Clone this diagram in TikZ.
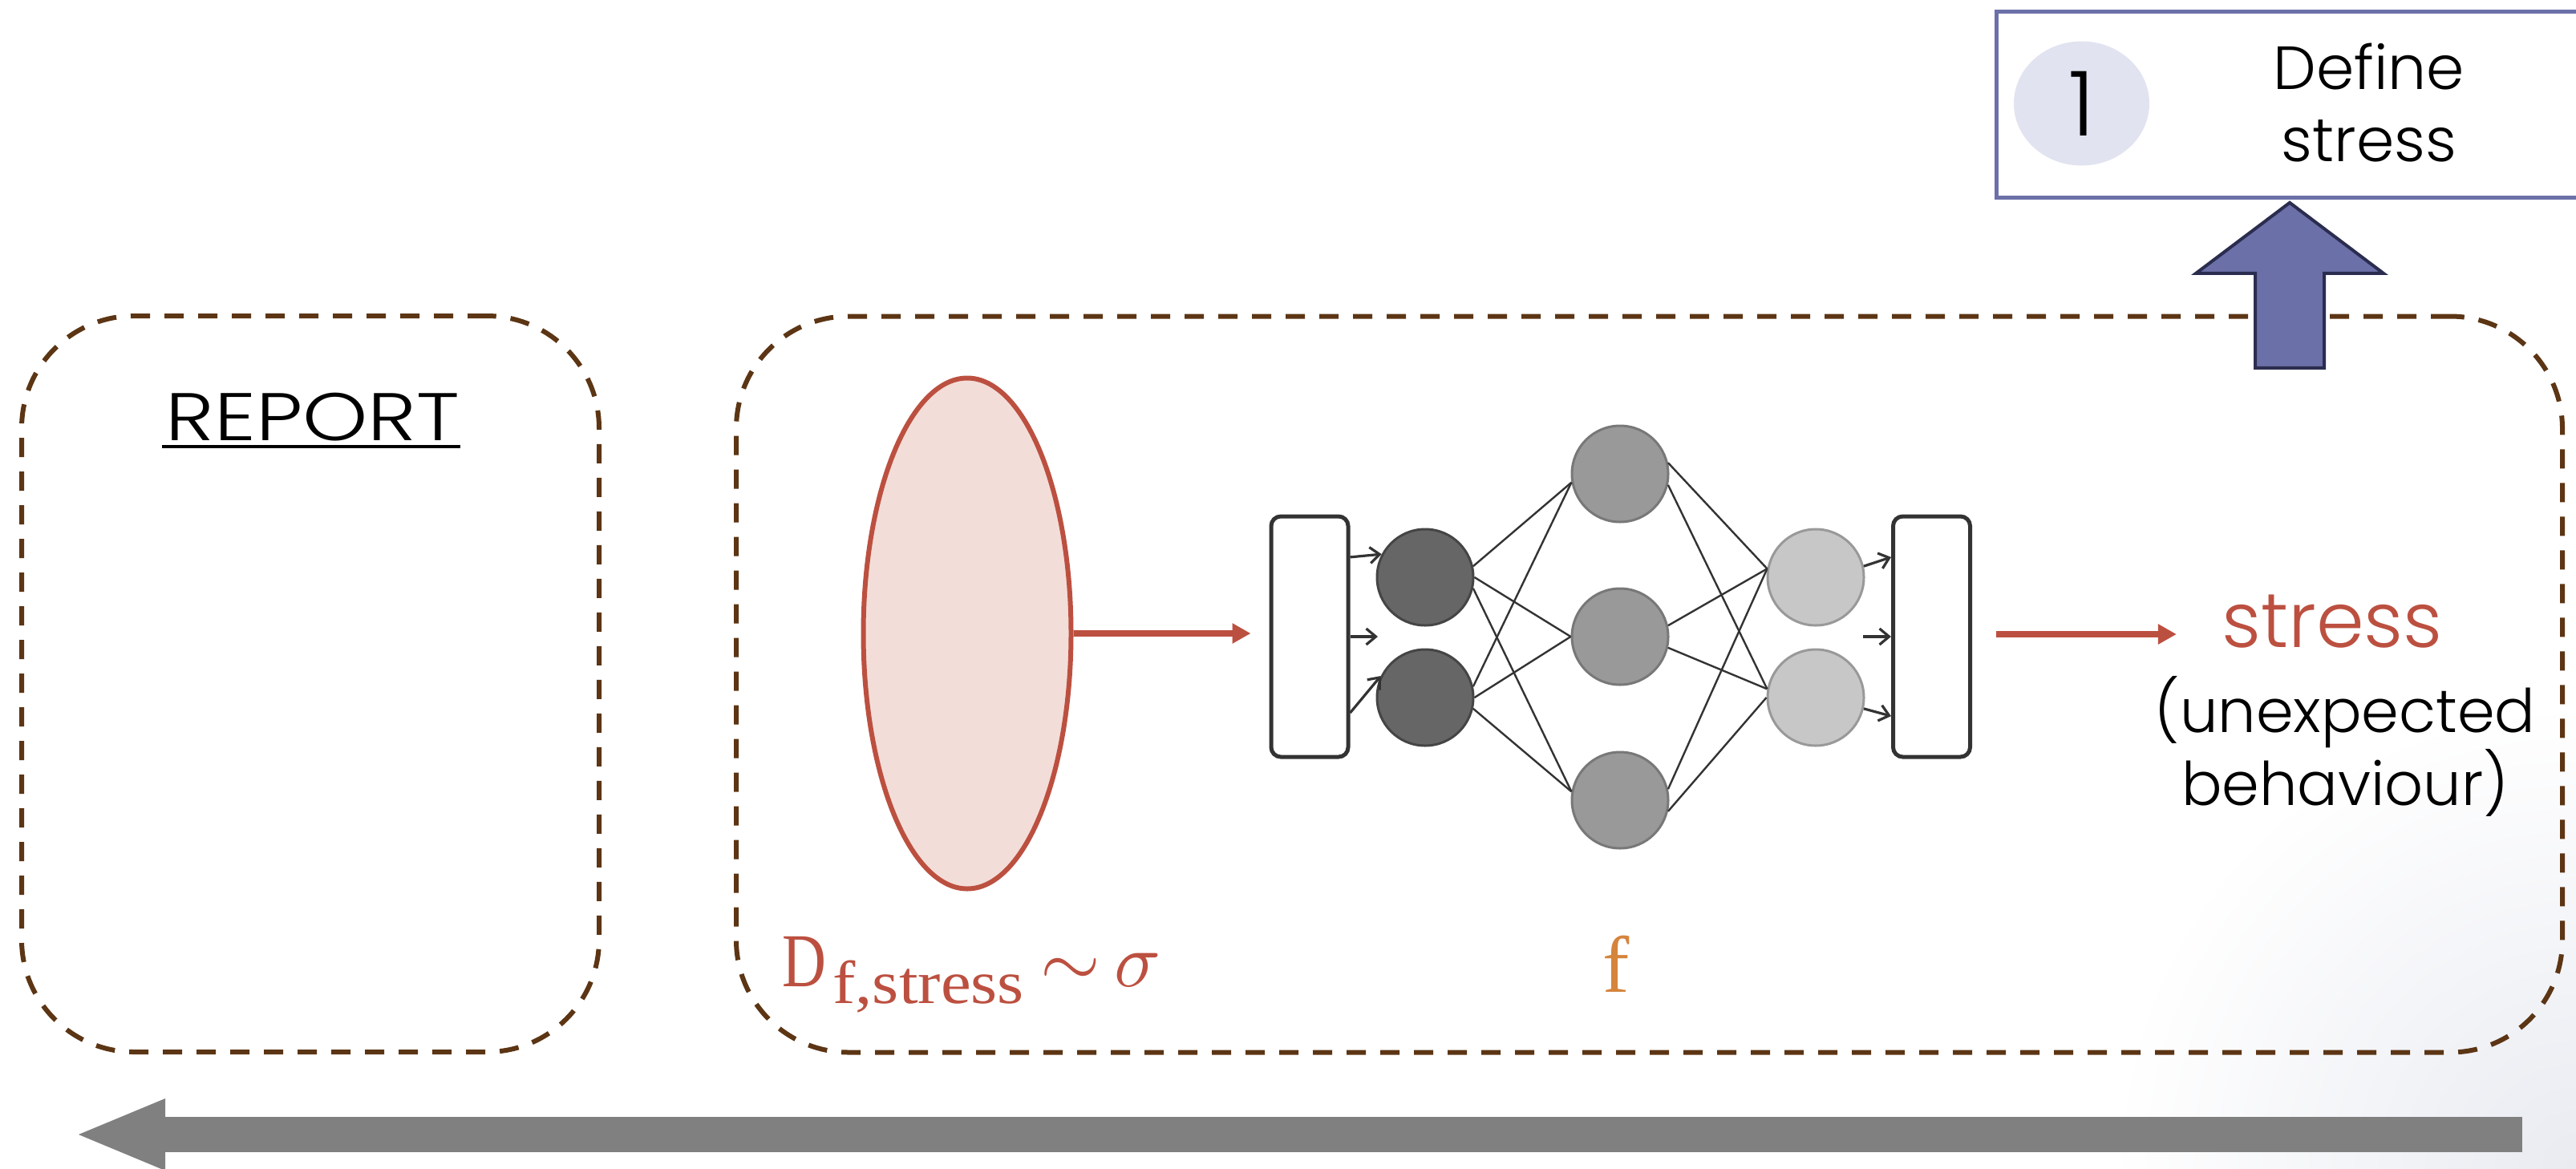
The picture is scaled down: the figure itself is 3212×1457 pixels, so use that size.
\documentclass[tikz,border=0pt]{standalone}
\usepackage[no-math]{fontspec}
\setmainfont{Poppins Light}
\newfontfamily\wideface{Poppins Light}[FakeStretch=1.23]
\newfontfamily\serifface{Liberation Serif}
\newfontfamily\narrowface{Liberation Serif}[FakeStretch=0.8]
\newfontfamily\subface{Liberation Serif}[FakeStretch=1.12]
\usetikzlibrary{positioning,arrows.meta,shapes.geometric,shapes.arrows}
\definecolor{planblue}{HTML}{6C70A8}
\definecolor{planbluesoft}{HTML}{E2E3F0}
\definecolor{navy}{HTML}{2B2D4F}
\definecolor{umber}{HTML}{5C3514}
\definecolor{brick}{HTML}{BC5040}
\definecolor{bricksoft}{HTML}{F3DDD8}
\definecolor{amber}{HTML}{D5843C}
\definecolor{wire}{HTML}{333333}
\definecolor{railgrey}{HTML}{808080}
\definecolor{cornergrey}{HTML}{E9EBF1}
\newcommand{\bigsym}[1]{\scalebox{4.8}{\fontsize{10}{12}\selectfont$#1$}}
\tikzset{
  zone/.style    = {draw=umber, line width=3pt, dash pattern=on 12pt off 9pt, rounded corners=70pt,
                    minimum height=459pt},
  layerbox/.style= {draw=wire, line width=2.5pt, fill=white, rounded corners=6pt,
                    minimum width=48pt, minimum height=150pt},
  unit/.style    = {circle, line width=1.5pt, minimum size=60pt, inner sep=0pt},
  unitdark/.style= {unit, draw=black!73, fill=black!60},
  unitmid/.style = {unit, draw=black!53, fill=black!40},
  unitpale/.style= {unit, draw=black!40, fill=black!22},
  link/.style    = {draw=wire, line width=1.2pt},
  feed/.style    = {draw=wire, line width=1.6pt, -{Straight Barb[length=6pt,width=10pt]}},
  flow/.style    = {draw=brick, line width=4pt, -{Triangle[length=11.5pt,width=12pt]}},
  label/.style   = {align=center, inner sep=0pt, font=\fontsize{38}{45}\selectfont},
  formula/.style = {inner sep=0pt, font=\fontsize{47.5}{50}\selectfont},
}
\begin{document}
\begin{tikzpicture}[x=0.5pt, y=-0.5pt]
  \useasboundingbox (0,0) rectangle (3212,1457);
  \clip (0,0) rectangle (3212,1457);
  \shade[inner color=cornergrey, outer color=white] (3212,1457) circle (580);

  \node[zone, minimum width=360pt] (report) at (387,853) {};
  \node[zone, minimum width=1138.5pt] (model) at (2056.5,853.5) {};

  \node[draw=planblue, line width=2.5pt, fill=white, minimum width=380pt, minimum height=116pt] (task) at (2869,130) {};
  \node[ellipse, fill=planbluesoft, minimum width=84.5pt, minimum height=77.5pt, inner sep=0pt] (num) at (2595.5,129) {};
  \node[inner sep=0pt, font=\fontsize{56}{60}\selectfont] (one) at (num.center) {1};
  \node[label] (define) at (2954,128) {Define\\stress};
  \node[single arrow, draw=navy, line width=2pt, fill=planblue, rotate=90, inner sep=0pt, inner ysep=20.5pt,
        minimum width=115.5pt, minimum height=103pt, single arrow head extend=37pt,
        single arrow tip angle=106] (up) at (2855,372) {};

  \node[inner sep=0pt, font=\wideface\fontsize{42}{45}\selectfont, anchor=base] (repname) at (390,549) {REPORT};
  \draw[line width=2pt] ([yshift=-3.5pt,xshift=-2pt]repname.south west) -- ([yshift=-3.5pt]repname.south east);

  \node[ellipse, draw=brick, line width=3pt, fill=bricksoft, minimum width=129.5pt, minimum height=318.5pt, inner sep=0pt] (data) at (1206,790) {};

  \node[layerbox] (inbox) at (1633,794) {};
  \node[layerbox] (outbox) at (2408.5,794) {};
  \node[unitdark] (d1) at (1777,720) {};
  \node[unitdark, below=13.5pt of d1] (d2) {};
  \node[unitmid] (m2) at (2020,794) {};
  \node[unitmid, above=40pt of m2] (m1) {};
  \node[unitmid, below=40.5pt of m2] (m3) {};
  \node[unitpale] (r1) at (2264,720) {};
  \node[unitpale, below=13.5pt of r1] (r2) {};
  \coordinate (inmid) at (1718,794);
  \coordinate (outmid) at (2323,794);

  \draw[link] (d1.13) -- (m1.190); \draw[link] (d1.east) -- (m2.west); \draw[link] (d1.-13) -- (m3.170);
  \draw[link] (d2.13) -- (m1.190); \draw[link] (d2.east) -- (m2.west); \draw[link] (d2.-13) -- (m3.170);
  \draw[link] (m1.13) -- (r1.170); \draw[link] (m1.-13) -- (r2.170);
  \draw[link] (m2.13) -- (r1.170); \draw[link] (m2.-13) -- (r2.170);
  \draw[link] (m3.13) -- (r1.170); \draw[link] (m3.-13) -- (r2.west);

  \draw[feed] (inbox.63) -- (d1.152); \draw[feed] (inbox.east) -- (inmid); \draw[feed] (inbox.-62.5) -- (d2.154);
  \draw[feed] (r1.13) -- (outbox.117); \draw[feed] (outmid) -- (outbox.west); \draw[feed] (r2.-13) -- (outbox.243);

  \node[inner sep=0pt, text=brick, font=\fontsize{48}{50}\selectfont, anchor=base] (stress) at (2908,807) {stress};
  \node[label, font=\fontsize{37.5}{45.5}\selectfont, anchor=north] (unexp) at (2924,843) {(unexpected\\behaviour)};

  \draw[flow, shorten >=11.5pt] (data.east) -- (data.east -| inbox.west);
  \draw[flow, shorten <=15pt, shorten >=28pt] ([yshift=1.5pt]outbox.east) -- ([yshift=1.5pt]outbox.east -| stress.west);

  \node[formula, text=brick, anchor=base west] (dset) at (975,1230)
       {{\narrowface D}\hspace{4pt}\raisebox{-10.5pt}{\subface\fontsize{38}{40}\selectfont f,stress}\hspace{10pt}\bigsym{\sim}\hspace{9pt}\bigsym{\sigma}};
  \node[inner sep=0pt, font=\serifface\fontsize{50}{52}\selectfont, text=amber, anchor=base] (fname) at (2015,1237) {f};

  \coordinate (railstart) at (3145,1415);
  \coordinate (railend) at (92,1415);
  \draw[draw=railgrey, line width=22pt, -{Triangle[length=57pt,width=40pt]}] (railstart) -- (railend);
\end{tikzpicture}
\end{document}
